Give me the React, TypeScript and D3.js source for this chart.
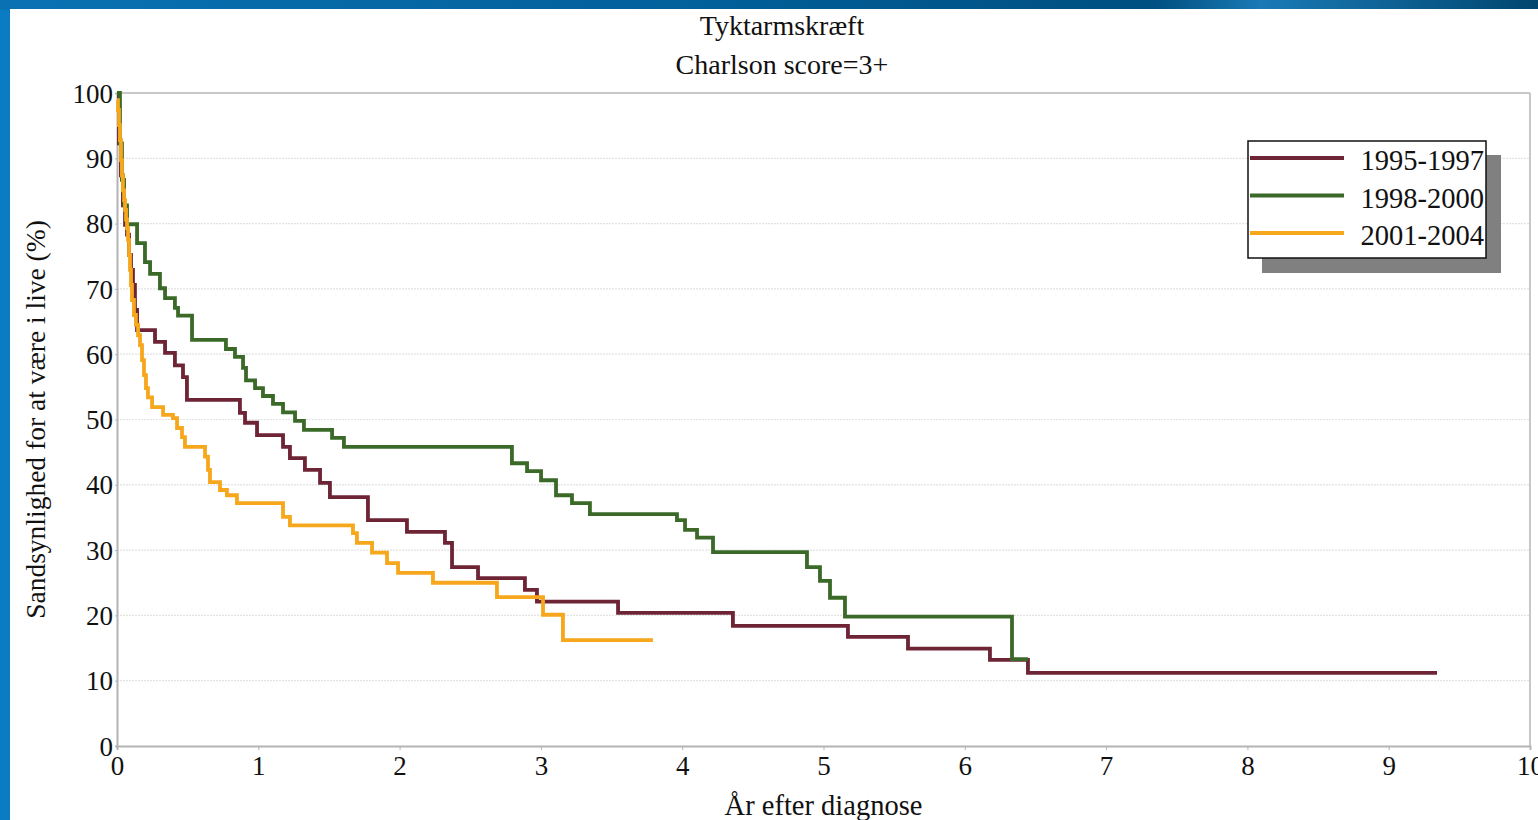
import React, { useEffect, useRef } from 'react';
import * as d3 from 'd3';

// Kaplan-Meier style survival curves, years after diagnosis vs. % alive
const seriesNames = ['1995-1997', '1998-2000', '2001-2004'];
const seriesColors = ['#6d2435', '#3b6a28', '#f6a71c'];

const years9597 = [0, 0.014, 0.028, 0.042, 0.057, 0.071, 0.085, 0.099, 0.113, 0.127, 0.142, 0.269, 0.34, 0.41, 0.467, 0.495, 0.87, 0.906, 0.991, 1.175, 1.224, 1.33, 1.437, 1.507, 1.776, 2.052, 2.321, 2.371, 2.555, 2.887, 2.972, 3.546, 4.359, 5.173, 5.598, 6.178, 6.447];
const surv9597 = [100, 92.3, 87.4, 82.8, 79.8, 78.3, 75.2, 72.9, 70.6, 66.8, 63.7, 61.9, 60.2, 58.3, 56.5, 53.0, 51.0, 49.5, 47.6, 45.8, 44.1, 42.3, 40.3, 38.1, 34.6, 32.8, 31.1, 27.4, 25.7, 23.9, 22.1, 20.4, 18.4, 16.7, 14.9, 13.2, 11.2];
const end9597 = 9.342;

const years9800 = [0, 0.021, 0.035, 0.05, 0.071, 0.142, 0.198, 0.234, 0.304, 0.34, 0.41, 0.432, 0.531, 0.771, 0.835, 0.892, 0.913, 0.977, 1.033, 1.104, 1.175, 1.26, 1.323, 1.522, 1.606, 2.795, 2.902, 3.001, 3.107, 3.22, 3.347, 3.963, 4.02, 4.105, 4.218, 4.883, 4.975, 5.046, 5.152, 6.334];
const surv9800 = [100, 92.3, 86.7, 82.8, 79.9, 77.0, 74.1, 72.3, 70.1, 68.6, 67.1, 65.9, 62.2, 60.8, 59.6, 57.9, 56.0, 54.8, 53.6, 52.4, 51.1, 49.8, 48.4, 47.2, 45.8, 43.3, 42.1, 40.7, 38.4, 37.2, 35.5, 34.6, 33.1, 31.9, 29.7, 27.4, 25.3, 22.7, 19.8, 13.3];
const end9800 = 6.447;

const years0104 = [0, 0.007, 0.014, 0.021, 0.028, 0.035, 0.042, 0.05, 0.057, 0.064, 0.071, 0.078, 0.085, 0.092, 0.099, 0.106, 0.12, 0.134, 0.149, 0.163, 0.177, 0.191, 0.205, 0.219, 0.248, 0.326, 0.396, 0.425, 0.46, 0.481, 0.623, 0.644, 0.658, 0.729, 0.778, 0.849, 1.175, 1.224, 1.67, 1.698, 1.805, 1.911, 1.989, 2.236, 2.689, 3.015, 3.156];
const surv0104 = [98.9, 97.4, 95.1, 92.8, 89.7, 87.4, 85.1, 83.6, 82.1, 80.6, 79.3, 77.5, 75.2, 72.9, 70.6, 68.3, 66.0, 64.5, 62.9, 61.4, 59.1, 56.8, 54.8, 53.4, 51.9, 50.7, 50.2, 48.7, 47.3, 45.8, 44.3, 42.3, 40.4, 39.2, 38.4, 37.2, 35.1, 33.8, 32.6, 31.1, 29.6, 28.0, 26.5, 25.0, 22.8, 20.1, 16.2];
const end0104 = 3.793;

const xTicks = [0, 1, 2, 3, 4, 5, 6, 7, 8, 9, 10];
const yTicks = [0, 10, 20, 30, 40, 50, 60, 70, 80, 90, 100];

const FONT = '"Liberation Serif", "Times New Roman", serif';

function App() {
  const chartRef = useRef<HTMLDivElement>(null);

  useEffect(() => {
    document.body.style.margin = '0';
    document.body.style.overflow = 'hidden';

    const W = 1538;
    const H = 820;
    const left = 117, right = 1530, top = 93, bottom = 746;

    d3.select(chartRef.current).select('svg').remove();

    const svg = d3
      .select(chartRef.current)
      .append('svg')
      .attr('width', W)
      .attr('height', H)
      .style('display', 'block');

    // slide background: blue frame, white panel
    const defs = svg.append('defs');
    const topGrad = defs.append('linearGradient').attr('id', 'topBand').attr('x1', 0).attr('x2', 1).attr('y1', 0).attr('y2', 0);
    topGrad.append('stop').attr('offset', '0%').attr('stop-color', '#0a72b3');
    topGrad.append('stop').attr('offset', '45%').attr('stop-color', '#02609a');
    topGrad.append('stop').attr('offset', '75%').attr('stop-color', '#004f80');
    topGrad.append('stop').attr('offset', '82%').attr('stop-color', '#1a7ab5');
    topGrad.append('stop').attr('offset', '100%').attr('stop-color', '#00466f');

    svg.append('rect').attr('width', W).attr('height', H).attr('fill', '#0a7cc1');
    svg.append('rect').attr('width', W).attr('height', 10).attr('fill', 'url(#topBand)');
    svg.append('rect').attr('x', 10).attr('y', 9).attr('width', W - 10).attr('height', H - 9).attr('fill', '#ffffff');

    const x = d3.scaleLinear().domain([0, 10]).range([left, right]);
    const y = d3.scaleLinear().domain([0, 100]).range([bottom, top]);

    // gridlines
    svg
      .append('g')
      .selectAll('line')
      .data(yTicks.filter((d) => d > 0 && d < 100))
      .enter()
      .append('line')
      .attr('x1', left)
      .attr('x2', right)
      .attr('y1', (d) => y(d))
      .attr('y2', (d) => y(d))
      .attr('stroke', '#e2e2e2')
      .attr('stroke-width', 1.2)
      .attr('stroke-dasharray', '2,1');

    // plot frame
    svg.append('line').attr('x1', left).attr('x2', right).attr('y1', top).attr('y2', top).attr('stroke', '#c8c8c8').attr('stroke-width', 2);
    svg.append('line').attr('x1', right).attr('x2', right).attr('y1', top).attr('y2', bottom).attr('stroke', '#c8c8c8').attr('stroke-width', 2);

    // axes
    const xAxis = d3.axisBottom(x).tickValues(xTicks).tickSize(4).tickPadding(6).tickFormat(d3.format('d'));
    const yAxis = d3.axisLeft(y).tickValues(yTicks).tickSize(2).tickPadding(2).tickFormat(d3.format('d'));

    const gx = svg.append('g').attr('transform', `translate(0,${bottom})`).call(xAxis);
    const gy = svg.append('g').attr('transform', `translate(${left},0)`).call(yAxis);
    [gx, gy].forEach((g) => {
      g.select('.domain').attr('stroke', '#b4b4b4').attr('stroke-width', 2);
      g.selectAll('.tick line').attr('stroke', '#b4b4b4');
      g.selectAll('.tick text').attr('fill', '#111').style('font-family', FONT).style('font-size', '27px');
    });
    gy.selectAll('.tick text').attr('dy', '0.34em');

    // survival curves
    const line = d3
      .line<[number, number]>()
      .x((d) => x(d[0]))
      .y((d) => y(d[1]))
      .curve(d3.curveStepAfter);

    const curves = [
      { years: years9597, surv: surv9597, end: end9597 },
      { years: years9800, surv: surv9800, end: end9800 },
      { years: years0104, surv: surv0104, end: end0104 },
    ];
    curves.forEach((c, i) => {
      const pts: [number, number][] = c.years.map((t, k) => [t, c.surv[k]]);
      pts.push([c.end, c.surv[c.surv.length - 1]]);
      svg
        .append('path')
        .datum(pts)
        .attr('d', line)
        .attr('fill', 'none')
        .attr('stroke', seriesColors[i])
        .attr('stroke-width', 3.8);
    });

    // titles
    svg.append('text').attr('x', 782).attr('y', 35).attr('text-anchor', 'middle').style('font-family', FONT).style('font-size', '28px').attr('fill', '#111').text('Tyktarmskræft');
    svg.append('text').attr('x', 782).attr('y', 74).attr('text-anchor', 'middle').style('font-family', FONT).style('font-size', '28px').attr('fill', '#111').text('Charlson score=3+');

    // axis labels
    svg
      .append('text')
      .attr('transform', `translate(${(left + right) / 2},${bottom + 69})`)
      .attr('text-anchor', 'middle')
      .style('font-family', FONT)
      .style('font-size', '28.5px')
      .attr('fill', '#111')
      .text('År efter diagnose');

    svg
      .append('text')
      .attr('transform', `translate(45,${y(50)}) rotate(-90)`)
      .attr('text-anchor', 'middle')
      .style('font-family', FONT)
      .style('font-size', '27.5px')
      .attr('fill', '#111')
      .text('Sandsynlighed for at være i live (%)');

    // legend with drop shadow
    const lg = svg.append('g').attr('transform', 'translate(1248,141)');
    lg.append('rect').attr('x', 14).attr('y', 14).attr('width', 239).attr('height', 118).attr('fill', '#808080');
    lg.append('rect').attr('x', 0).attr('y', 0).attr('width', 238).attr('height', 117).attr('fill', '#fff').attr('stroke', '#111').attr('stroke-width', 1.5);
    seriesNames.forEach((name, i) => {
      const ly = 17 + i * 37.5;
      lg.append('line').attr('x1', 2).attr('x2', 96).attr('y1', ly).attr('y2', ly).attr('stroke', seriesColors[i]).attr('stroke-width', 3.8);
      lg.append('text').attr('x', 236).attr('y', ly + 12).attr('text-anchor', 'end').style('font-family', FONT).style('font-size', '28.5px').attr('fill', '#111').text(name);
    });
  }, []);

  return <div ref={chartRef}></div>;
}

export default App;
